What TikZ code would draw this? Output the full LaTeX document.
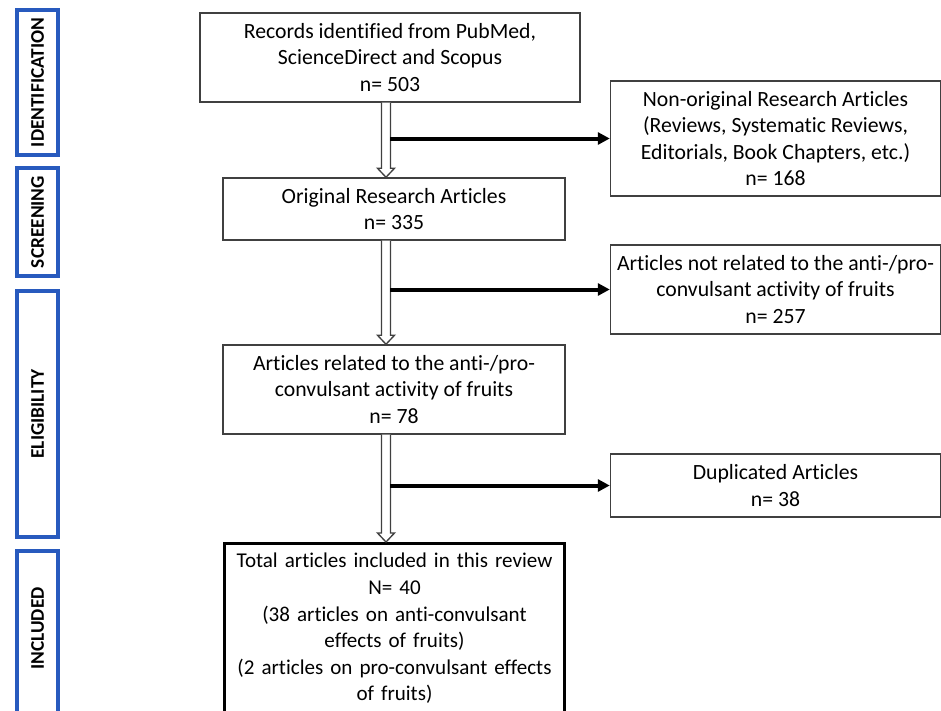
\documentclass[tikz,border=0pt]{standalone}
\usepackage{fontspec}
\setmainfont{Carlito}[Ligatures=NoCommon]
\usetikzlibrary{calc,arrows.meta}
\definecolor{phase}{RGB}{40,90,190}
\definecolor{boxgray}{RGB}{64,64,64}
\begin{document}
\begin{tikzpicture}[x=0.75pt,y=-0.75pt,
  box/.style={draw=boxgray, line width=1.1pt, align=center, inner sep=0pt,
    font=\fontsize{16.3}{19.9}\selectfont},
  phasebox/.style={draw=phase, line width=3pt, inner sep=0pt, rotate=90,
    minimum height=30.75pt, font=\bfseries\fontsize{14.5}{16}\selectfont},
  phasetext/.style={rotate=90, inner sep=0pt, font=\bfseries\fontsize{14.5}{16}\selectfont},
  hollow/.style={draw=boxgray, line width=1pt, fill=white},
  side/.style={line width=3pt, -{Triangle[length=9pt,width=9pt]}},
]
\useasboundingbox (0,0) rectangle (941,710);
% phase labels
\node[phasebox, minimum width=108.75pt] (pid) at (37.5,82.5) {IDENTIFICATION};
\node[phasebox, minimum width=81pt] (psc) at (37.5,222) {SCREENING};
\node[phasebox, minimum width=184.5pt] (pel) at (37.5,414) {ELIGIBILITY};
\node[phasebox, minimum width=130pt] (pin) at (37.5,637.5) {};
\node[phasetext] (tin) at (37.5,628.5) {INCLUDED};
% boxes
\node[box, minimum width=285pt, minimum height=66.75pt] (b1) at (390,57.5)
  {Records identified from PubMed,\\ScienceDirect and Scopus\\n= 503};
\node[box, minimum width=247.5pt, minimum height=86.25pt] (b2) at (775.5,138.5)
  {Non-original Research Articles\\(Reviews, Systematic Reviews,\\Editorials, Book Chapters, etc.)\\n= 168};
\node[box, minimum width=256.5pt, minimum height=46.5pt] (b3) at (394,209)
  {Original Research Articles\\n= 335};
\node[box, minimum width=247.5pt, minimum height=66.75pt] (b4) at (775.5,289.5)
  {Articles not related to the anti-/pro-\\convulsant activity of fruits\\n= 257};
\node[box, minimum width=256.5pt, minimum height=66.75pt] (b5) at (394,389.5)
  {Articles related to the anti-/pro-\\convulsant activity of fruits\\n= 78};
\node[box, minimum width=247.5pt, minimum height=47.25pt] (b6) at (775.5,485.5)
  {Duplicated Articles\\n= 38};
\node[box, draw=black, line width=2.4pt, anchor=north, text width=255pt, inner xsep=0pt, inner ysep=7.3pt,
  font=\fontsize{15.8}{19.9}\selectfont] (b7) at (394.5,542)
  {Total articles included in this review\\N= 40\\(38 articles on anti-convulsant\\effects of fruits)\\(2 articles on pro-convulsant effects\\of fruits)\par\vspace*{40pt}};
% arrows
\coordinate (ax) at (386,0);
\foreach \a/\b/\c in {b1/b3/b2, b3/b5/b4, b5/b7/b6}{
  \draw[hollow] ($(\a.south -| ax)+(-4.5,0)$) -- ($(\b.north -| ax)+(-4.5,-9)$)
    -- ($(\b.north -| ax)+(-8.5,-9)$) -- (\b.north -| ax)
    -- ($(\b.north -| ax)+(8.5,-9)$) -- ($(\b.north -| ax)+(4.5,-9)$)
    -- ($(\a.south -| ax)+(4.5,0)$);
  \coordinate (s-\c) at ($(\a.south -| ax)+(4,0)$);
  \draw[side] (s-\c |- \c.west) -- (\c.west);
}
\end{tikzpicture}
\end{document}
